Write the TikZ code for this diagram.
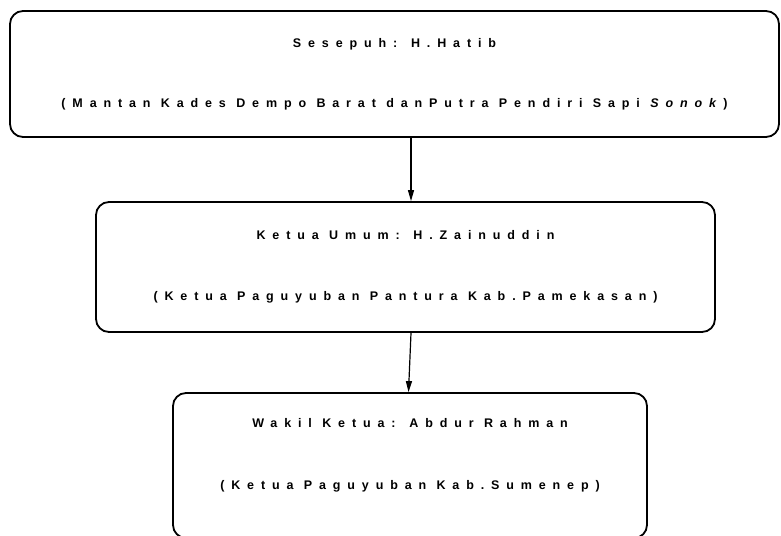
\documentclass[tikz,border=0pt]{standalone}
\usepackage{fontspec}
\newfontfamily\orgfont{Liberation Sans}[LetterSpace=55]
\usetikzlibrary{arrows.meta}

\begin{document}
\begin{tikzpicture}[x=1pt,y=-1pt]
        \tikzstyle{every node}+=[inner sep=0pt]
        \tikzstyle{jabatan}=[draw=black, line width=1.8pt, rounded corners=13pt, align=center, font=\orgfont\bfseries\fontsize{12.5}{14}\selectfont]
        \tikzstyle{garis}=[draw=black, line width=1.2pt, -{Triangle[length=11pt,width=6pt]}]
        \useasboundingbox (0,0) rectangle (781,535);
        \node [jabatan, minimum width=769pt, minimum height=126pt] (sesepuh) at (394.5,74) {Sesepuh: H.Hatib\\[46pt](Mantan Kades Dempo Barat danPutra Pendiri Sapi \textit{Sonok})};
        \node [jabatan, minimum width=619pt, minimum height=130pt] (ketua) at (405.5,267) {Ketua Umum: H.Zainuddin\\[47pt](Ketua Paguyuban Pantura Kab.Pamekasan)};
        \node [jabatan, minimum width=474pt, minimum height=145pt, text depth=24pt] (wakil) at (410,465.5) {Wakil Ketua: Abdur Rahman\\[48pt](Ketua Paguyuban Kab.Sumenep)};
        \draw [garis] ([xshift=16.5pt]sesepuh.south) -- ([xshift=5.5pt]ketua.north);
        \draw [garis] ([xshift=5.5pt]ketua.south) -- ([xshift=-1.5pt]wakil.north);
\end{tikzpicture}
\end{document}
